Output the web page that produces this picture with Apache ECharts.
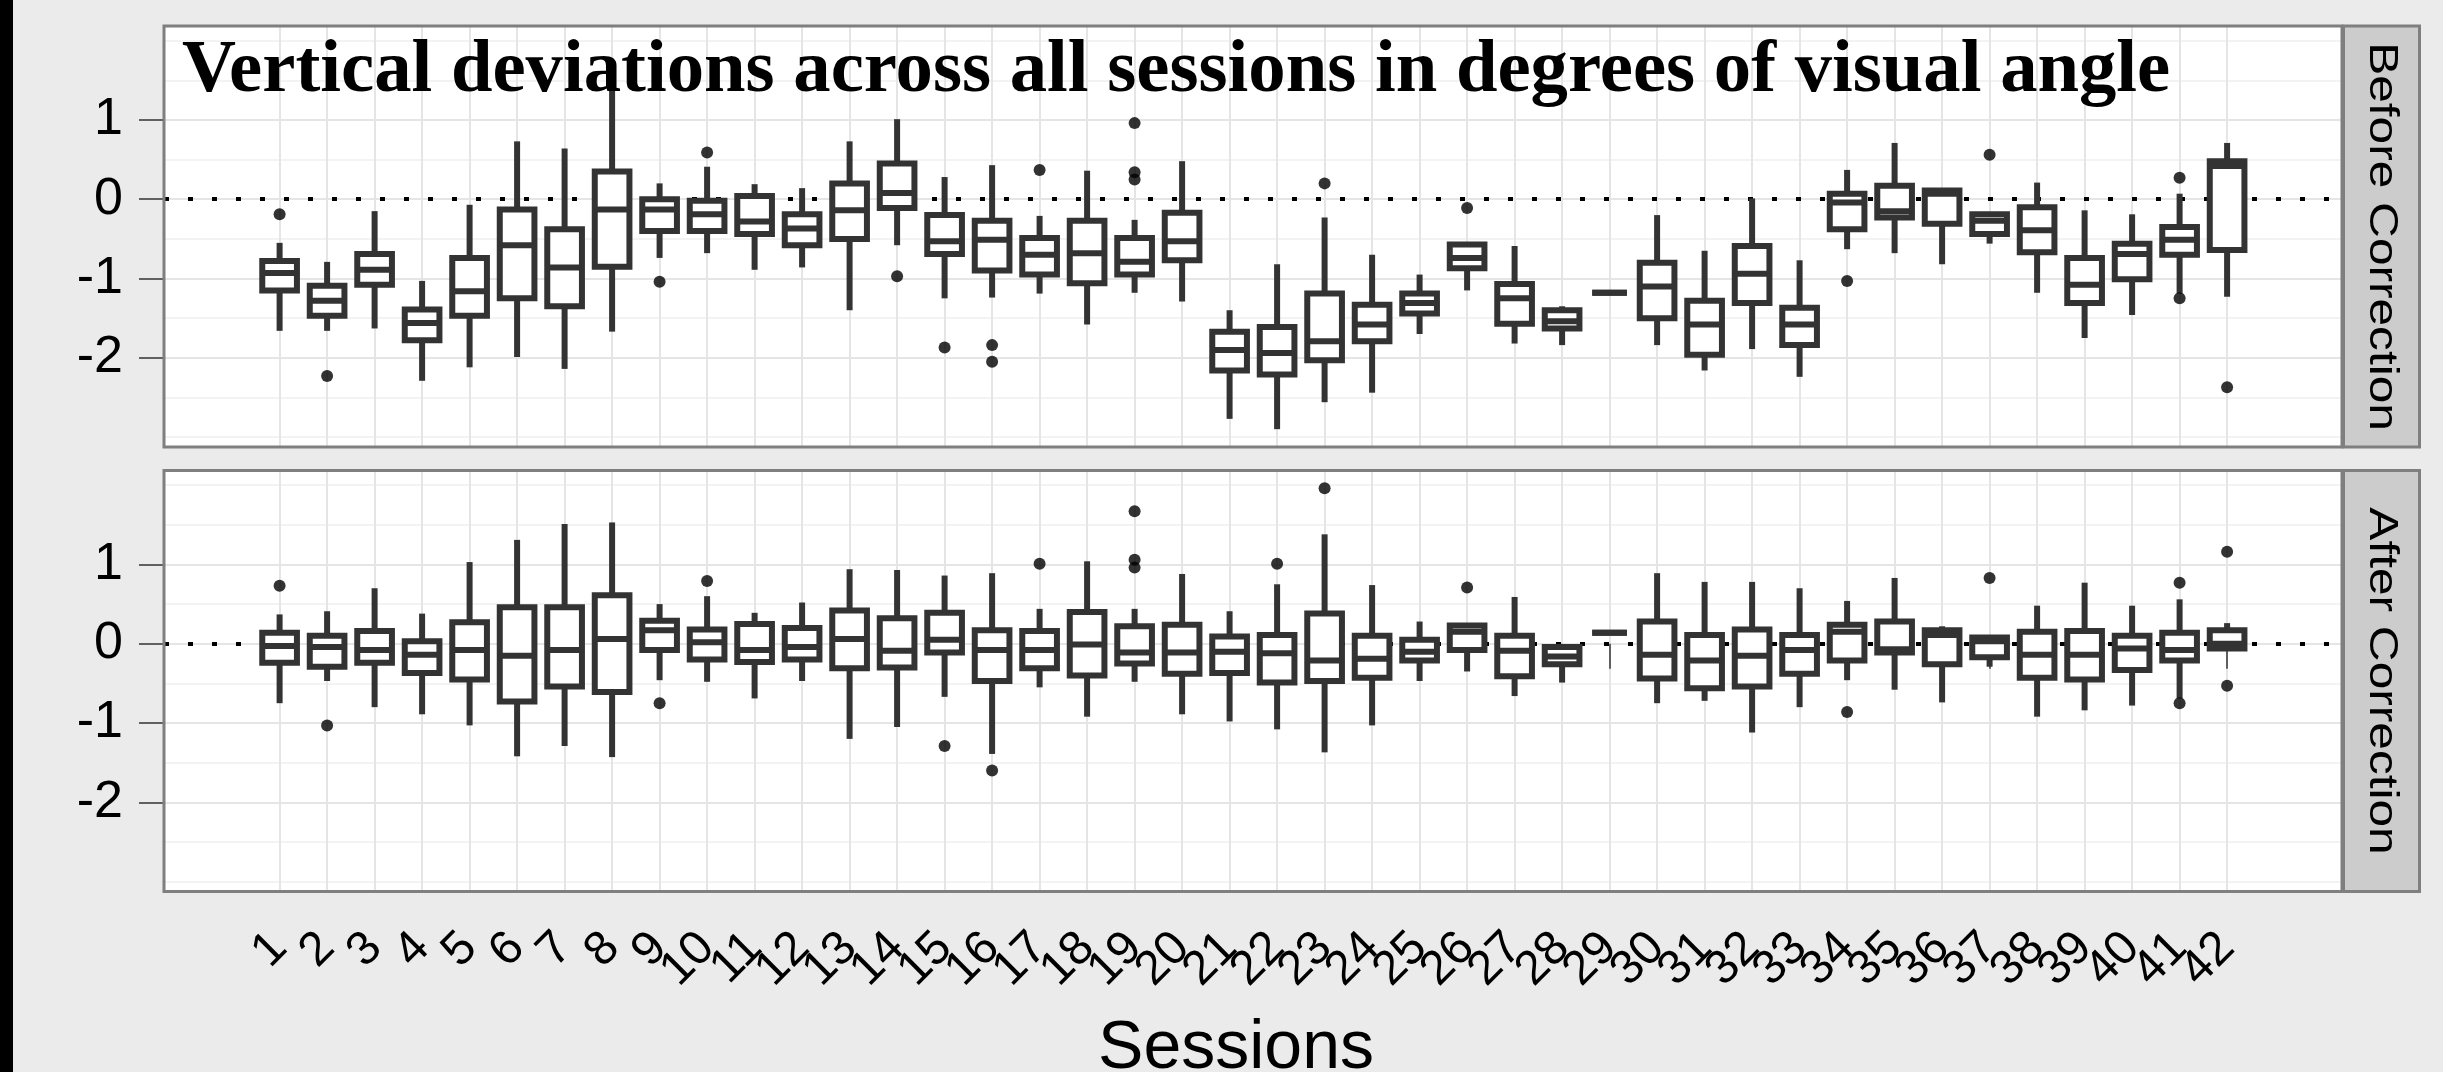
<!DOCTYPE html>
<html>
<head>
<meta charset="utf-8">
<title>Vertical deviations across all sessions</title>
<script src="https://cdn.jsdelivr.net/npm/echarts@6/dist/echarts.min.js"></script>
<style>
    html, body { margin: 0; padding: 0; background: #ebebeb; }
    #chart { width: 2443px; height: 1072px; }
</style>
</head>
<body>
<div id="chart"></div>
<script>
// sessions on the x axis
const sessions = ['1','2','3','4','5','6','7','8','9','10','11','12','13','14','15','16','17','18','19','20','21',
    '22','23','24','25','26','27','28','29','30','31','32','33','34','35','36','37','38','39','40','41','42'];

// y ticks (degrees of visual angle)
const yTicks = [-2, -1, 0, 1];
const yMinorLines = [-3, -2.5, -1.5, -0.5, 0.5, 1.5, 2];
const refLine = 0;

// Before Correction: whisker low, Q1, median, Q3, whisker high
const beforeLow    = [-1.66,-1.66,-1.63,-2.29,-2.12,-1.99,-2.14,-1.67,-0.74,-0.68,-0.89,-0.86,-1.40,-0.58,-1.25,-1.24,-1.19,-1.58,-1.18,-1.29,-2.77,
                      -2.90,-2.56,-2.44,-1.70,-1.15,-1.82,-1.84,-1.18,-1.84,-2.16,-1.89,-2.24,-0.63,-0.68,-0.82,-0.56,-1.18,-1.75,-1.46,-1.19,-1.23];
const beforeQ1     = [-1.15,-1.47,-1.08,-1.78,-1.47,-1.25,-1.35,-0.85,-0.40,-0.40,-0.44,-0.58,-0.50,-0.11,-0.69,-0.90,-0.95,-1.06,-0.95,-0.77,-2.16,
                      -2.21,-2.03,-1.79,-1.44,-0.87,-1.57,-1.63,-1.18,-1.50,-1.96,-1.31,-1.84,-0.38,-0.23,-0.31,-0.44,-0.67,-1.31,-1.01,-0.70,-0.64];
const beforeMedian = [-0.93,-1.28,-0.89,-1.56,-1.16,-0.58,-0.86,-0.13,-0.13,-0.19,-0.28,-0.37,-0.14, 0.08,-0.53,-0.51,-0.70,-0.68,-0.79,-0.53,-1.90,
                      -1.94,-1.79,-1.58,-1.31,-0.74,-1.25,-1.54,-1.18,-1.10,-1.58,-0.94,-1.58,-0.04,-0.15, 0.07,-0.27,-0.39,-1.08,-0.69,-0.51, 0.42];
const beforeQ3     = [-0.78,-1.09,-0.69,-1.39,-0.74,-0.13,-0.38, 0.35, 0.00,-0.02, 0.04,-0.19, 0.20, 0.45,-0.20,-0.27,-0.49,-0.27,-0.49,-0.17,-1.67,
                      -1.61,-1.19,-1.33,-1.19,-0.57,-1.07,-1.40,-1.18,-0.80,-1.28,-0.59,-1.37, 0.07, 0.17, 0.11,-0.19,-0.10,-0.74,-0.56,-0.35, 0.48];
const beforeHigh   = [-0.55,-0.79,-0.15,-1.03,-0.07, 0.73, 0.64, 1.38, 0.20, 0.41, 0.19, 0.14, 0.73, 1.01, 0.28, 0.43,-0.21, 0.36,-0.26, 0.48,-1.40,
                      -0.82,-0.23,-0.70,-0.95,-0.57,-0.59,-1.35,-1.18,-0.20,-0.65, 0.01,-0.77, 0.37, 0.71, 0.14,-0.17, 0.21,-0.14,-0.19, 0.07, 0.71];
// [session, value]
const beforeOutliers = [[1,-0.19],[2,-2.23],[9,-1.04],[10,0.59],[14,-0.97],[15,-1.87],[16,-1.84],[16,-2.05],[17,0.37],
    [19,0.96],[19,0.34],[19,0.25],[23,0.20],[26,-0.11],[34,-1.03],[37,0.56],[41,0.27],[41,-1.25],[42,-2.37]];

// After Correction
const afterLow    = [-0.75,-0.47,-0.80,-0.89,-1.03,-1.42,-1.29,-1.43,-0.46,-0.48,-0.69,-0.47,-1.20,-1.05,-0.67,-1.39,-0.55,-0.92,-0.48,-0.89,-0.98,
                     -1.08,-1.37,-1.03,-0.47,-0.35,-0.66,-0.49, 0.14,-0.75,-0.72,-1.12,-0.80,-0.46,-0.58,-0.74,-0.29,-0.92,-0.84,-0.78,-0.69,-0.06];
const afterQ1     = [-0.24,-0.29,-0.24,-0.37,-0.45,-0.73,-0.54,-0.61,-0.08,-0.20,-0.23,-0.20,-0.31,-0.30,-0.11,-0.47,-0.31,-0.40,-0.25,-0.38,-0.37,
                     -0.49,-0.47,-0.43,-0.21,-0.08,-0.41,-0.26, 0.14,-0.44,-0.56,-0.54,-0.38,-0.21,-0.11,-0.26,-0.17,-0.43,-0.45,-0.33,-0.21,-0.06];
const afterMedian = [-0.03,-0.04,-0.08,-0.14,-0.08,-0.15,-0.08, 0.06, 0.17, 0.02,-0.08,-0.04, 0.06,-0.09, 0.05,-0.08,-0.08,-0.01,-0.11,-0.11,-0.10,
                     -0.12,-0.21,-0.19,-0.10, 0.15,-0.09,-0.16, 0.14,-0.14,-0.21,-0.15,-0.08, 0.15,-0.07, 0.11, 0.03,-0.14,-0.14,-0.06,-0.08, 0.00];
const afterQ3     = [ 0.14, 0.10, 0.16, 0.03, 0.27, 0.46, 0.46, 0.61, 0.29, 0.18, 0.25, 0.20, 0.42, 0.32, 0.39, 0.17, 0.16, 0.40, 0.22, 0.24, 0.09,
                      0.11, 0.38, 0.10, 0.05, 0.23, 0.10,-0.04, 0.14, 0.28, 0.11, 0.18, 0.11, 0.24, 0.28, 0.17, 0.08, 0.15, 0.16, 0.10, 0.14, 0.17];
const afterHigh   = [ 0.37, 0.41, 0.70, 0.38, 1.03, 1.31, 1.51, 1.53, 0.50, 0.60, 0.39, 0.52, 0.94, 0.93, 0.86, 0.89, 0.44, 1.04, 0.44, 0.88, 0.41,
                      0.75, 1.38, 0.74, 0.28, 0.24, 0.59,-0.02, 0.14, 0.89, 0.78, 0.78, 0.70, 0.54, 0.83, 0.22, 0.08, 0.48, 0.77, 0.48, 0.56, 0.26];
const afterOutliers = [[1,0.73],[2,-1.03],[9,-0.75],[10,0.79],[15,-1.29],[16,-1.60],[17,1.01],[19,1.67],[19,1.06],[19,0.96],
    [22,1.01],[23,1.96],[26,0.71],[34,-0.86],[37,0.83],[41,0.77],[41,-0.75],[42,1.16],[42,-0.53]];

const panelNames = ['Before Correction', 'After Correction'];
const chartTitle = 'Vertical deviations across all sessions in degrees of visual angle';
const xTitle = 'Sessions';

// layout
const yMin = -3.125, yMax = 2.185;
const PANEL_LEFT = 164, PANEL_WIDTH = 2178, PANEL_HEIGHT = 421;
const PANEL_TOPS = [26, 470.5];
const INNER_LEFT = 279.6, INNER_WIDTH = 1947.5;
const STRIP_WIDTH = 76;
const SANS = "'Liberation Sans', Arial, Helvetica, sans-serif";
const BOX_COLOR = '#333333';
const BOX_LINE = 6;

function boxRows(low, q1, med, q3, high) {
    return sessions.map((s, i) => [i, low[i], q1[i], med[i], q3[i], high[i]]);
}

function renderBox(params, api) {
    const x = api.value(0);
    const low = api.coord([x, api.value(1)]);
    const q1 = api.coord([x, api.value(2)]);
    const med = api.coord([x, api.value(3)]);
    const q3 = api.coord([x, api.value(4)]);
    const high = api.coord([x, api.value(5)]);
    const half = api.size([1, 0])[0] * 0.365;
    const lineStyle = { stroke: BOX_COLOR, lineWidth: BOX_LINE, fill: null };
    return {
        type: 'group',
        children: [
            { type: 'line', shape: { x1: low[0], y1: low[1], x2: q1[0], y2: q1[1] }, style: lineStyle },
            { type: 'line', shape: { x1: q3[0], y1: q3[1], x2: high[0], y2: high[1] }, style: lineStyle },
            { type: 'rect', shape: { x: q3[0] - half, y: q3[1], width: half * 2, height: q1[1] - q3[1] },
              style: { stroke: BOX_COLOR, lineWidth: BOX_LINE, fill: '#ffffff' } },
            { type: 'line', shape: { x1: med[0] - half, y1: med[1], x2: med[0] + half, y2: med[1] }, style: lineStyle }
        ]
    };
}

let myChart = echarts.init(document.getElementById('chart'));

let grids = [], xAxes = [], yAxes = [], series = [], graphics = [];

graphics.push({ type: 'rect', shape: { x: 0, y: 0, width: 13, height: 1072 }, style: { fill: '#000' }, z: 10 });

const panels = [
    { rows: boxRows(beforeLow, beforeQ1, beforeMedian, beforeQ3, beforeHigh), outliers: beforeOutliers },
    { rows: boxRows(afterLow, afterQ1, afterMedian, afterQ3, afterHigh), outliers: afterOutliers }
];

panels.forEach((panel, p) => {
    const top = PANEL_TOPS[p];
    const isBottom = p === panels.length - 1;
    const outerGrid = grids.length;
    grids.push({ left: PANEL_LEFT, top: top, width: PANEL_WIDTH, height: PANEL_HEIGHT, show: true,
        backgroundColor: '#ffffff', borderWidth: 0 });
    grids.push({ left: INNER_LEFT, top: top, width: INNER_WIDTH, height: PANEL_HEIGHT, show: false });
    const innerGrid = outerGrid + 1;

    const outerX = xAxes.length;
    xAxes.push({ gridIndex: outerGrid, type: 'value', min: 0, max: 1, show: false });
    const innerX = xAxes.length;
    xAxes.push({
        gridIndex: innerGrid, type: 'category', data: sessions, boundaryGap: false,
        axisLine: { show: false },
        axisTick: { show: isBottom, length: 25, interval: 0, lineStyle: { color: '#333', width: 1.5 } },
        axisLabel: { show: isBottom, interval: 0, rotate: 45, fontSize: 48, fontFamily: SANS, color: '#000', margin: 49 },
        splitLine: { show: true, interval: 0, lineStyle: { color: '#e5e5e5', width: 2 } }
    });

    const minorY = yAxes.length;
    yAxes.push({
        gridIndex: outerGrid, type: 'value', min: yMin, max: yMax, position: 'left',
        axisLine: { show: false }, axisLabel: { show: false },
        axisTick: { show: false, customValues: yMinorLines },
        splitLine: { show: true, lineStyle: { color: '#f3f3f3', width: 2 } }
    });
    const majorY = yAxes.length;
    yAxes.push({
        gridIndex: outerGrid, type: 'value', min: yMin, max: yMax, position: 'left',
        axisLine: { show: false },
        axisTick: { show: true, length: 25, customValues: yTicks, lineStyle: { color: '#333', width: 1.5 } },
        axisLabel: { show: true, customValues: yTicks, fontSize: 52, fontFamily: SANS, color: '#000', margin: 41 },
        splitLine: { show: true, lineStyle: { color: '#e5e5e5', width: 2 } }
    });
    const innerY = yAxes.length;
    yAxes.push({ gridIndex: innerGrid, type: 'value', min: yMin, max: yMax, show: false });

    // dotted reference line at 0
    series.push({
        type: 'line', xAxisIndex: outerX, yAxisIndex: majorY, data: [], silent: true, z: 1,
        markLine: {
            silent: true, symbol: 'none', z: 1, animation: false,
            label: { show: false },
            lineStyle: { color: '#000', width: 4, type: [5, 19], cap: 'butt' },
            emphasis: { disabled: true },
            data: [{ yAxis: refLine }]
        }
    });
    series.push({
        type: 'custom', xAxisIndex: innerX, yAxisIndex: innerY, z: 3,
        renderItem: renderBox,
        encode: { x: 0, y: [1, 2, 3, 4, 5] },
        data: panel.rows
    });
    series.push({
        type: 'scatter', xAxisIndex: innerX, yAxisIndex: innerY, z: 4,
        symbol: 'circle', symbolSize: 12,
        itemStyle: { color: '#000' },
        data: panel.outliers.map(o => [o[0] - 1, o[1]])
    });

    // panel border and facet strip
    graphics.push({ type: 'rect', z: 10, shape: { x: PANEL_LEFT, y: top, width: PANEL_WIDTH, height: PANEL_HEIGHT },
        style: { fill: 'none', stroke: '#7f7f7f', lineWidth: 3 } });
    graphics.push({ type: 'rect', z: 10, shape: { x: PANEL_LEFT + PANEL_WIDTH + 1.5, y: top, width: STRIP_WIDTH, height: PANEL_HEIGHT },
        style: { fill: '#cccccc', stroke: '#7f7f7f', lineWidth: 3 } });
    graphics.push({ type: 'text', z: 11, x: PANEL_LEFT + PANEL_WIDTH + 1.5 + STRIP_WIDTH / 2, y: top + PANEL_HEIGHT / 2,
        rotation: -Math.PI / 2, scaleX: 1.24, scaleY: 1,
        style: { text: panelNames[p], fontSize: 40, fontFamily: SANS, fill: '#000', align: 'center', verticalAlign: 'middle' } });
});

graphics.push({ type: 'text', z: 11, x: 1236, y: 1049,
    style: { text: xTitle, fontSize: 68, fontFamily: SANS, fill: '#000', align: 'center', verticalAlign: 'middle' } });

let option = {
    animation: false,
    backgroundColor: '#ebebeb',
    title: {
        text: chartTitle, left: 182, top: 34, padding: 0, z: 8,
        textStyle: { fontFamily: "'Liberation Serif', 'Times New Roman', serif", fontWeight: 'bold', fontSize: 74.7, color: '#000' }
    },
    grid: grids,
    xAxis: xAxes,
    yAxis: yAxes,
    series: series,
    graphic: graphics
};
myChart.setOption(option, true);
window.addEventListener('resize', function() {
    myChart.resize()
});
</script>
</body>
</html>
